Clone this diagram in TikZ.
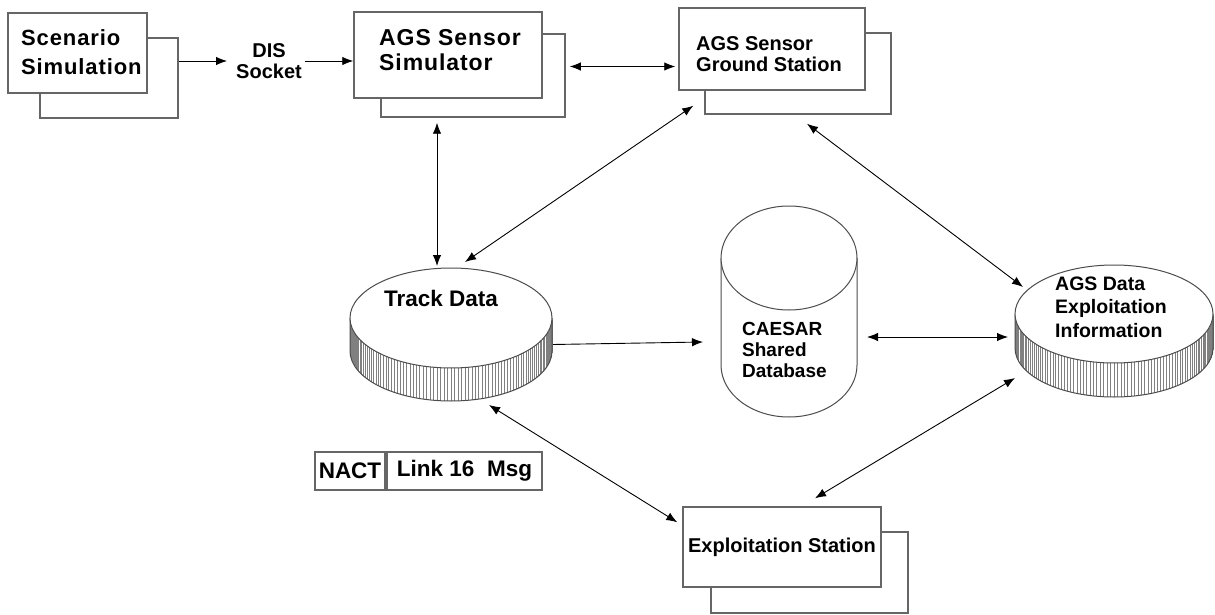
\documentclass[tikz,border=0pt]{standalone}
\usepackage{fontspec}
\setmainfont{Liberation Sans}
\usetikzlibrary{arrows.meta,calc}
\newcommand\diskshape[5]{% cx cy rx ry h
  \fill[white] (#1-#3,#2) -- (#1-#3,#2+#5) arc[start angle=180,end angle=0,x radius=#3,y radius=#4] -- (#1+#3,#2) arc[start angle=0,end angle=180,x radius=#3,y radius=#4] -- cycle;
  \foreach \t in {2,4,...,178}{%
    \pgfmathsetmacro\hx{#1-#3*cos(\t)}%
    \pgfmathsetmacro\hy{#2+#4*sin(\t)}%
    \draw[black!50,line width=0.7pt] (\hx,\hy) -- (\hx,\hy+#5);
  }
  \draw[diskline] (#1-#3,#2) -- (#1-#3,#2+#5) arc[start angle=180,end angle=0,x radius=#3,y radius=#4] -- (#1+#3,#2);
  \draw[diskline,fill=white] (#1,#2) ellipse[x radius=#3,y radius=#4];
}
\begin{document}
\begin{tikzpicture}[x=1pt,y=-1pt,
  boxfront/.style={draw=black!60,line width=1.5pt,fill=white,inner sep=0pt},
  diskline/.style={draw=black!70,line width=1pt},
  ghost/.style={inner sep=0pt,outer sep=0pt},
  lbl/.style={inner sep=0pt,align=left,anchor=west,font=\bfseries},
  arr/.style={-{Latex[length=11pt,width=8.5pt]},line width=0.9pt},
  dbl/.style={{Latex[length=11pt,width=8.5pt]}-{Latex[length=11pt,width=8.5pt]},line width=0.9pt}]
\useasboundingbox[fill=white] (0,0) rectangle (1215,615);

% Scenario Simulation
\node[boxfront,minimum width=138pt,minimum height=80pt] (scenb) at (109,78) {};
\node[boxfront,minimum width=139pt,minimum height=80pt] (scenf) at (77.5,53) {};
\node[lbl,font=\bfseries\fontsize{22}{29}\selectfont\addfontfeature{LetterSpace=4}] (scent) at (21,52) {Scenario\\Simulation};

% DIS Socket
\node[inner sep=0pt,align=center,font=\bfseries\fontsize{20}{21}\selectfont] (dis) at (269,61) {DIS\\Socket};

% AGS Sensor Simulator
\node[boxfront,minimum width=184pt,minimum height=83pt] (simb) at (473,75.5) {};
\node[boxfront,minimum width=188pt,minimum height=86pt] (simf) at (448,55) {};
\node[lbl,font=\bfseries\fontsize{23}{25}\selectfont\addfontfeature{LetterSpace=4}] (simt) at (379,50.5) {AGS Sensor\\Simulator};

% AGS Sensor Ground Station
\node[boxfront,minimum width=186pt,minimum height=81pt] (gndb) at (798,73.5) {};
\node[boxfront,minimum width=186pt,minimum height=82pt] (gndf) at (772,49) {};
\node[lbl,font=\bfseries\fontsize{20}{21}\selectfont] (gndt) at (696,54.5) {AGS Sensor\\Ground Station};

% Track Data disk
\diskshape{451}{318}{101}{50}{33}
\node[ghost,minimum width=202pt,minimum height=133pt] (track) at (451,334.5) {};
\node[inner sep=0pt,font=\bfseries\fontsize{22.5}{24}\selectfont] (trackt) at (441,298) {Track Data};

% CAESAR cylinder
\draw[diskline,fill=white] (721,258) -- (721,365) arc[start angle=180,end angle=0,x radius=68,y radius=52] -- (857,258);
\draw[diskline,fill=white] (789,258) ellipse[x radius=68,y radius=52];
\node[ghost,minimum width=136pt,minimum height=211pt] (caesar) at (789,311.5) {};
\node[lbl,font=\bfseries\fontsize{19}{21}\selectfont] (caesart) at (742,349.5) {CAESAR\\Shared\\Database};

% AGS Data Exploitation Information disk
\diskshape{1114}{314}{99}{49}{34}
\node[ghost,minimum width=198pt,minimum height=132pt] (agsd) at (1114,331) {};
\node[lbl,font=\bfseries\fontsize{19.5}{23.5}\selectfont] (agsdt) at (1055,307) {AGS Data\\Exploitation\\Information};

% NACT / Link 16 Msg
\node[boxfront,line width=1.2pt,minimum width=70pt,minimum height=38pt,font=\bfseries\fontsize{22.5}{24}\selectfont] (nact) at (350,471) {NACT};
\node[boxfront,line width=1.2pt,minimum width=155pt,minimum height=38pt,font=\bfseries\fontsize{22.5}{24}\selectfont] (link) at (464.5,471) {Link 16\ \ Msg};

% Exploitation Station
\node[boxfront,minimum width=197pt,minimum height=81pt] (expb) at (809.5,572.5) {};
\node[boxfront,minimum width=198pt,minimum height=80pt] (expf) at (782,547) {};
\node[inner sep=0pt,font=\bfseries\fontsize{20}{22}\selectfont] (expt) at (782,547) {Exploitation Station};

% connectors
\draw[arr] (scenb.east |- dis) -- ($(dis.west)+(-9,0)$);
\draw[arr] ($(dis.east)+(3,0)$) -- (simf.west |- dis);
\draw[dbl] ($(simb.east)+(4,-9)$) -- ($(gndf.west |- simb.east)+(-3,-9)$);
\draw[dbl] ($(simb.south)+(-36,5)$) -- ($(track.north)+(-14,-2)$);
\draw[dbl] ($(gndf.south west)+(15,15)$) -- ($(track.north)+(14,-6)$);
\draw[dbl] ($(gndb.south)+(9,9)$) -- ($(agsd.west)+(8,-44)$);
\draw[dbl] ($(caesar.east)+(10,25.5)$) -- ($(agsd.west)+(-7,6)$);
\draw[arr] ($(track.east)+(1,10)$) -- ($(caesar.west)+(-18,30.5)$);
\draw[dbl] ($(track.south)+(38,4)$) -- ($(expf.north west)+(-5,16)$);
\draw[dbl] ($(agsd.west)+(0,47)$) -- ($(expf.north)+(33,-8)$);
\end{tikzpicture}
\end{document}
